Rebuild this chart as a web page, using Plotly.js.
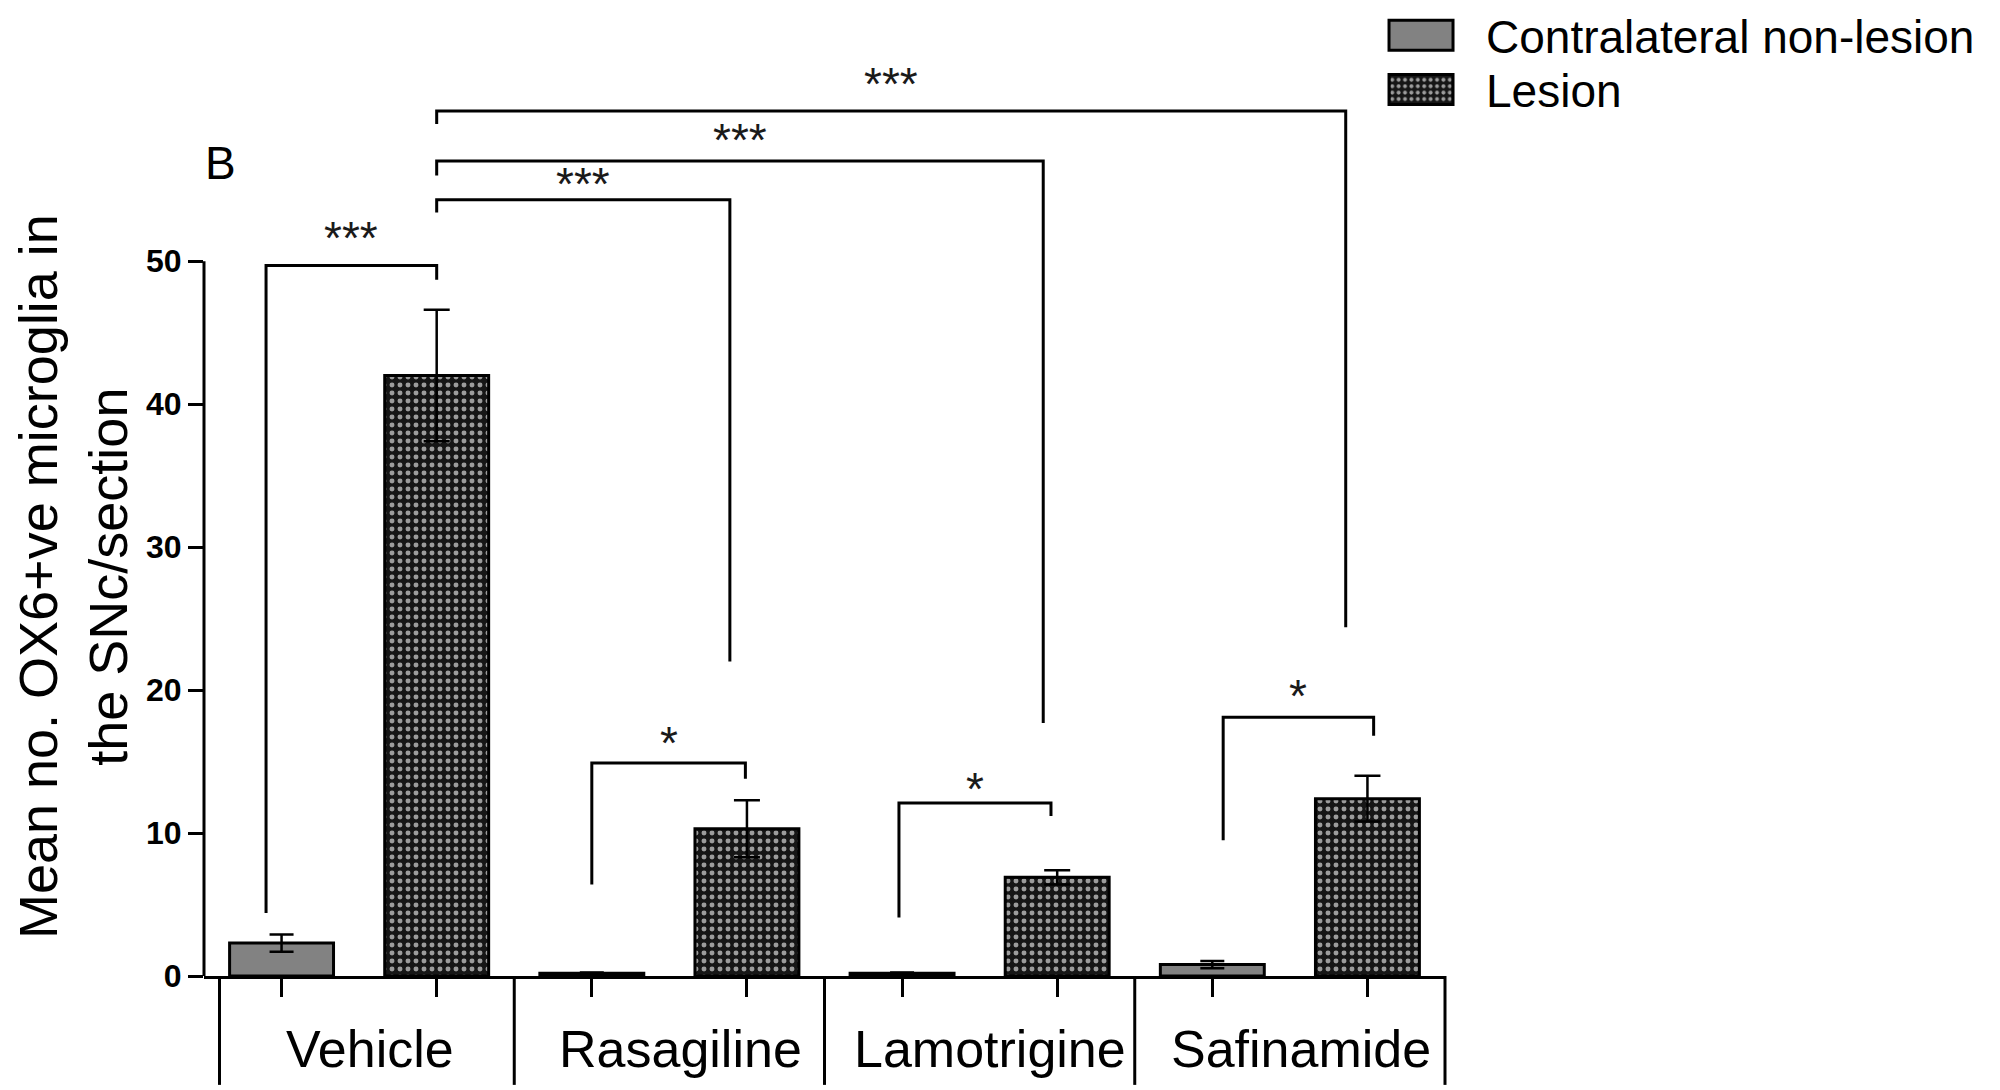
<!DOCTYPE html>
<html>
<head>
<meta charset="utf-8">
<script src="https://cdn.plot.ly/plotly-3.0.1.min.js"></script>
<style>html,body{margin:0;padding:0;background:#fff;}#chart{width:2000px;height:1090px;}</style>
</head>
<body>
<div id="chart"></div>
<script>
// ---- data ----
const categories = ['Vehicle', 'Rasagiline', 'Lamotrigine', 'Safinamide'];
const seriesNames = ['Contralateral non-lesion', 'Lesion'];
const contraMean = [2.3, 0.2, 0.2, 0.8];
const contraSEM = [0.6, 0.05, 0.05, 0.25];
const lesionMean = [42.0, 10.3, 6.9, 12.4];
const lesionSEM = [4.6, 2.0, 0.5, 1.6];
const yTickVals = [0, 10, 20, 30, 40, 50];
// significance comparisons: bar indices (bars interleaved contra/lesion per group)
const sigPairs = [[0, 1], [1, 3], [1, 5], [1, 7], [2, 3], [4, 5], [6, 7]];
const sigLabels = ['***', '***', '***', '***', '*', '*', '*'];

// ---- layout geometry for brackets (data units) ----
const bracketGeom = [
  {dx0: -0.10, dx1: 0.00, y0: 4.4, top: 49.7, y1: 48.7, ty: 51.6},
  {dx0: 0.00, dx1: -0.11, y0: 53.4, top: 54.3, y1: 22.0, ty: 55.4},
  {dx0: 0.00, dx1: -0.09, y0: 56.0, top: 57.0, y1: 17.7, ty: 58.5},
  {dx0: 0.00, dx1: -0.14, y0: 59.6, top: 60.5, y1: 24.4, ty: 62.4},
  {dx0: 0.00, dx1: -0.01, y0: 6.4, top: 14.9, y1: 13.8, ty: 16.3},
  {dx0: -0.02, dx1: -0.04, y0: 4.1, top: 12.1, y1: 11.2, ty: 13.1},
  {dx0: 0.07, dx1: 0.04, y0: 9.5, top: 18.1, y1: 16.8, ty: 19.6}
];

const FONT = 'Liberation Sans, Arial, Helvetica, sans-serif';
const contraX = categories.map((c, i) => 2 * i);
const lesionX = categories.map((c, i) => 2 * i + 1);
const allX = contraX.concat(lesionX).sort((a, b) => a - b);
const xMin = -0.5, xMax = 2 * categories.length - 0.5;
const toPaperX = v => (v - xMin) / (xMax - xMin);

const traces = [
  {
    type: 'bar', name: seriesNames[0], x: contraX, y: contraMean, width: 0.67, legend: 'legend',
    marker: {color: '#828282', line: {color: '#000', width: 3}},
    error_y: {type: 'data', array: contraSEM, visible: true, color: '#000', thickness: 2.5, width: 12}
  },
  {
    type: 'bar', name: seriesNames[1], x: lesionX, y: lesionMean, width: 0.67, legend: 'legend2',
    marker: {color: '#1c1c1c', line: {color: '#000', width: 3},
      pattern: {shape: '.', bgcolor: '#161616', fgcolor: '#9c9c9c', size: 8, solidity: 0.3}},
    error_y: {type: 'data', array: lesionSEM, visible: true, color: '#000', thickness: 2.5, width: 13}
  }
];

const shapes = [];
const annotations = [];
// y axis line from 0 to 50 only
shapes.push({type: 'line', xref: 'paper', yref: 'y', x0: 0, x1: 0, y0: 0, y1: yTickVals[yTickVals.length - 1],
  line: {color: '#000', width: 3}});
// group separators below the axis
const sepX = [-0.4].concat(categories.map((c, i) => 2 * i + 1.5));
sepX.forEach(v => shapes.push({type: 'line', xref: 'paper', yref: 'paper', x0: toPaperX(v), x1: toPaperX(v),
  y0: 0, y1: -0.119, line: {color: '#000', width: 3}}));
// group labels
categories.forEach((c, i) => annotations.push({text: c, xref: 'x', yref: 'paper', x: 2 * i + 0.57, y: -0.08,
  xanchor: 'center', yanchor: 'middle', showarrow: false, font: {family: FONT, size: 52, color: '#000'}}));
// significance brackets
sigPairs.forEach((p, k) => {
  const g = bracketGeom[k];
  const xa = p[0] + g.dx0, xb = p[1] + g.dx1;
  shapes.push({type: 'path', xref: 'x', yref: 'y',
    path: `M${xa},${g.y0} L${xa},${g.top} L${xb},${g.top} L${xb},${g.y1}`,
    line: {color: '#000', width: 3}});
  annotations.push({text: sigLabels[k], xref: 'x', yref: 'y', x: (xa + xb) / 2, y: g.ty,
    xanchor: 'center', yanchor: 'middle', showarrow: false, font: {family: FONT, size: 46, color: '#1a1a1a'}});
});
// y axis title
annotations.push({text: 'Mean no. OX6+ve microglia in<br>the SNc/section', xref: 'paper', yref: 'paper',
  x: -0.1056, y: 0.437, xanchor: 'center', yanchor: 'middle', textangle: -90, showarrow: false,
  font: {family: FONT, size: 54, color: '#000'}});
// panel letter
annotations.push({text: 'B', xref: 'paper', yref: 'paper', x: 0.0129, y: 0.888, xanchor: 'center', yanchor: 'middle',
  showarrow: false, font: {family: FONT, size: 46, color: '#000'}});

const legendBase = {x: 0.9283, xanchor: 'left', yanchor: 'top',
  bgcolor: 'rgba(0,0,0,0)', font: {family: FONT, size: 46, color: '#000'}, itemwidth: 120, tracegroupgap: 0};

const layout = {
  width: 2000, height: 1090,
  margin: {l: 204, r: 555, t: 61, b: 114, pad: 0},
  paper_bgcolor: '#fff', plot_bgcolor: '#fff',
  barmode: 'overlay',
  showlegend: true,
  legend: Object.assign({}, legendBase, {y: 1.0514}),
  legend2: Object.assign({}, legendBase, {y: 0.9923}),
  xaxis: {range: [xMin, xMax], tickvals: allX, ticktext: allX.map(() => ''), ticks: 'outside', ticklen: 18,
    tickwidth: 3, tickcolor: '#000', showline: true, linewidth: 3, linecolor: '#000', showgrid: false,
    zeroline: false, fixedrange: true},
  yaxis: {range: [0, 64], tickvals: yTickVals, ticks: 'outside', ticklen: 15, tickwidth: 3, tickcolor: '#000',
    showline: false, showgrid: false, zeroline: false, fixedrange: true,
    tickfont: {family: FONT, size: 32, color: '#000', weight: 'bold'}},
  shapes: shapes,
  annotations: annotations,
  font: {family: FONT, color: '#000'}
};

Plotly.newPlot('chart', traces, layout, {displayModeBar: false, staticPlot: true}).then(gd => {
  // widen the legend swatches to match the reference's wide boxes (pattern keeps its native scale)
  gd.querySelectorAll('.legendpoints path').forEach(p => {
    p.setAttribute('d', 'M32,15H-32V-15H32Z');
    p.style.strokeWidth = '3px';
  });
  // nudge the legends closer to the top edge than Plotly's automargin padding allows
  gd.querySelectorAll('.infolayer > g.legend, .infolayer > g.legend2').forEach(g => {
    const m = /translate\(\s*([-\d.]+)[ ,]+([-\d.]+)\s*\)/.exec(g.getAttribute('transform') || '');
    if (m) g.setAttribute('transform', `translate(${m[1]},${parseFloat(m[2]) - 15})`);
  });
});
</script>
</body>
</html>
